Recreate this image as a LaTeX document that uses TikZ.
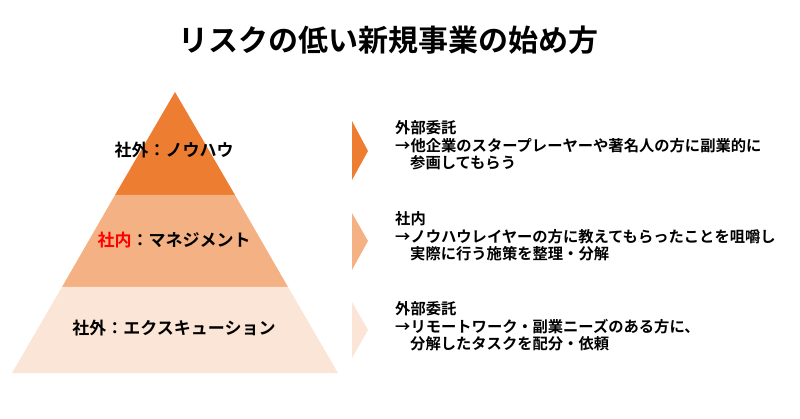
\documentclass[tikz,border=0pt]{standalone}
\usepackage{fontspec}
\newfontfamily\jp{Noto Sans CJK JP}[BoldFont=Noto Sans CJK JP Bold]
\definecolor{cA}{HTML}{ED7D31}
\definecolor{cB}{HTML}{F4B183}
\definecolor{cC}{HTML}{FBE5D6}
\definecolor{redtxt}{HTML}{FF0000}
\tikzset{
  layerlabel/.style={font=\jp\bfseries\fontsize{17}{20}\selectfont, inner sep=0pt},
  desc/.style={font=\jp\bfseries\fontsize{15.3}{18}\selectfont, inner sep=0pt, anchor=west},
  titletext/.style={font=\jp\bfseries\fontsize{30}{34}\selectfont, inner sep=0pt}
}
\begin{document}
\begin{tikzpicture}[x=1pt,y=-1pt]
\useasboundingbox (0,0) rectangle (800,419);
% title
\node[titletext] (title) at (388,40) {リスクの低い新規事業の始め方};
% pyramid
\fill[cA] (175,92) -- (235,195) -- (115,195) -- cycle;
\fill[cB] (115,195) -- (235,195) -- (288,287) -- (62,287) -- cycle;
\fill[cC] (62,287) -- (288,287) -- (338,373) -- (12,373) -- cycle;
\node[layerlabel] (l1) at (174,150) {社外：ノウハウ};
\node[layerlabel] (l2) at (174,240) {\textcolor{redtxt}{社内}：マネジメント};
\node[layerlabel] (l3) at (174,328) {社外：エクスキューション};
% chevrons
\fill[cA] (352,121) -- (368,151) -- (352,180) -- cycle;
\fill[cB] (352,213) -- (368,241) -- (352,270) -- cycle;
\fill[cC] (352,302) -- (368,330) -- (352,358) -- cycle;
% descriptions
\node[desc] (d1a) at (395,128) {外部委託};
\node[desc] (d1b) at (395,145.5) {→他企業のスタープレーヤーや著名人の方に副業的に};
\node[desc] (d1c) at (410,163) {参画してもらう};
\node[desc] (d2a) at (395,219) {社内};
\node[desc] (d2b) at (395,236.5) {→ノウハウレイヤーの方に教えてもらったことを咀嚼し};
\node[desc] (d2c) at (410,254) {実際に行う施策を整理・分解};
\node[desc] (d3a) at (395,309) {外部委託};
\node[desc] (d3b) at (395,326.5) {→リモートワーク・副業ニーズのある方に、};
\node[desc] (d3c) at (410,344) {分解したタスクを配分・依頼};
\end{tikzpicture}
\end{document}
